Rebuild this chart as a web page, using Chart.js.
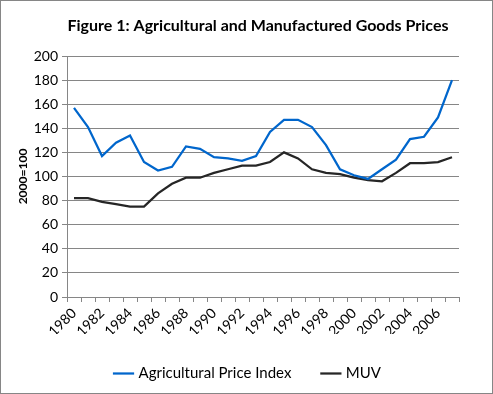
<!DOCTYPE html>
<html>
<head>
<meta charset="utf-8">
<script src="https://cdn.jsdelivr.net/npm/chart.js@4/dist/chart.umd.min.js"></script>
<style>
  html, body { margin: 0; padding: 0; background: #fff; }
  #wrap { width: 493px; height: 394px; box-sizing: border-box; border: 1px solid #868686; position: relative; }
  canvas { display: block; }
</style>
</head>
<body>
<div id="wrap"><canvas id="grafico" width="491" height="392"></canvas></div>
<script>
const years = [];
for (let y = 1980; y <= 2007; y++) years.push(String(y));

const agricultural = [157, 141, 117, 128, 134, 112, 105, 108, 125, 123, 116, 115, 113, 117,
  137, 147, 147, 141, 126, 106, 101, 98, 106, 114, 131, 133, 149, 180];
const muv = [82, 82, 79, 77, 75, 75, 86, 94, 99, 99, 103, 106, 109, 109,
  112, 120, 115, 106, 103, 102, 99, 97, 96, 103, 111, 111, 112, 116];

const chartTitle = 'Figure 1: Agricultural and Manufactured Goods Prices';
const fontName = 'Lato, "Open Sans", sans-serif';
const gridGray = '#868686';

// titulo dibujado a mano para poder centrarlo sobre el area del grafico
const tituloPlugin = {
  id: 'tituloPlugin',
  afterLayout(chart) {
    // la leyenda va centrada en todo el lienzo, no en el area con padding
    if (chart.legend) {
      chart.legend.left = 4;
      chart.legend.right = chart.width;
    }
  },
  afterDraw(chart) {
    const c = chart.ctx;
    c.save();
    c.fillStyle = '#000';
    c.font = 'bold 16px ' + fontName;
    c.textAlign = 'center';
    c.textBaseline = 'middle';
    c.fillText(chartTitle, 257, 25);
    c.restore();
  }
};

const ctx = document.getElementById('grafico').getContext('2d');
new Chart(ctx, {
  type: 'line',
  data: {
    labels: years,
    datasets: [{
      label: 'Agricultural Price Index',
      data: agricultural,
      borderColor: '#0066CC',
      backgroundColor: '#0066CC',
      borderWidth: 2.25,
      pointRadius: 0,
      tension: 0,
      fill: false
    }, {
      label: 'MUV',
      data: muv,
      borderColor: '#262626',
      backgroundColor: '#262626',
      borderWidth: 2.25,
      pointRadius: 0,
      tension: 0,
      fill: false
    }]
  },
  plugins: [tituloPlugin],
  options: {
    responsive: false,
    animation: false,
    layout: { padding: { left: 8, right: 33, top: 55, bottom: 2 } },
    plugins: {
      title: { display: false },
      legend: {
        position: 'bottom',
        labels: {
          usePointStyle: true,
          pointStyle: 'line',
          boxWidth: 26,
          color: '#000',
          padding: 32,
          font: { family: fontName, size: 15 }
        }
      },
      tooltip: { enabled: false }
    },
    scales: {
      x: {
        offset: true,
        grid: {
          offset: true,
          drawOnChartArea: false,
          drawTicks: true,
          tickLength: 5,
          color: gridGray
        },
        border: { color: gridGray, width: 1 },
        ticks: {
          autoSkip: false,
          minRotation: 45,
          maxRotation: 45,
          color: '#000',
          font: { family: fontName, size: 14 },
          callback: function (value, index) {
            return index % 2 === 0 ? this.getLabelForValue(value) : '';
          }
        },
        afterFit: function (scale) { scale.height = 37; }
      },
      y: {
        min: 0,
        max: 200,
        ticks: {
          stepSize: 20,
          color: '#000',
          padding: 4,
          font: { family: fontName, size: 14 }
        },
        grid: {
          color: gridGray,
          tickLength: 5
        },
        border: { color: gridGray, width: 1 },
        title: {
          display: true,
          text: '2000=100',
          color: '#000',
          font: { family: fontName, size: 12, weight: 'bold' },
          padding: { top: 7, bottom: 0 }
        },
        afterFit: function (scale) { scale.width = 58; }
      }
    }
  }
});
</script>
</body>
</html>
